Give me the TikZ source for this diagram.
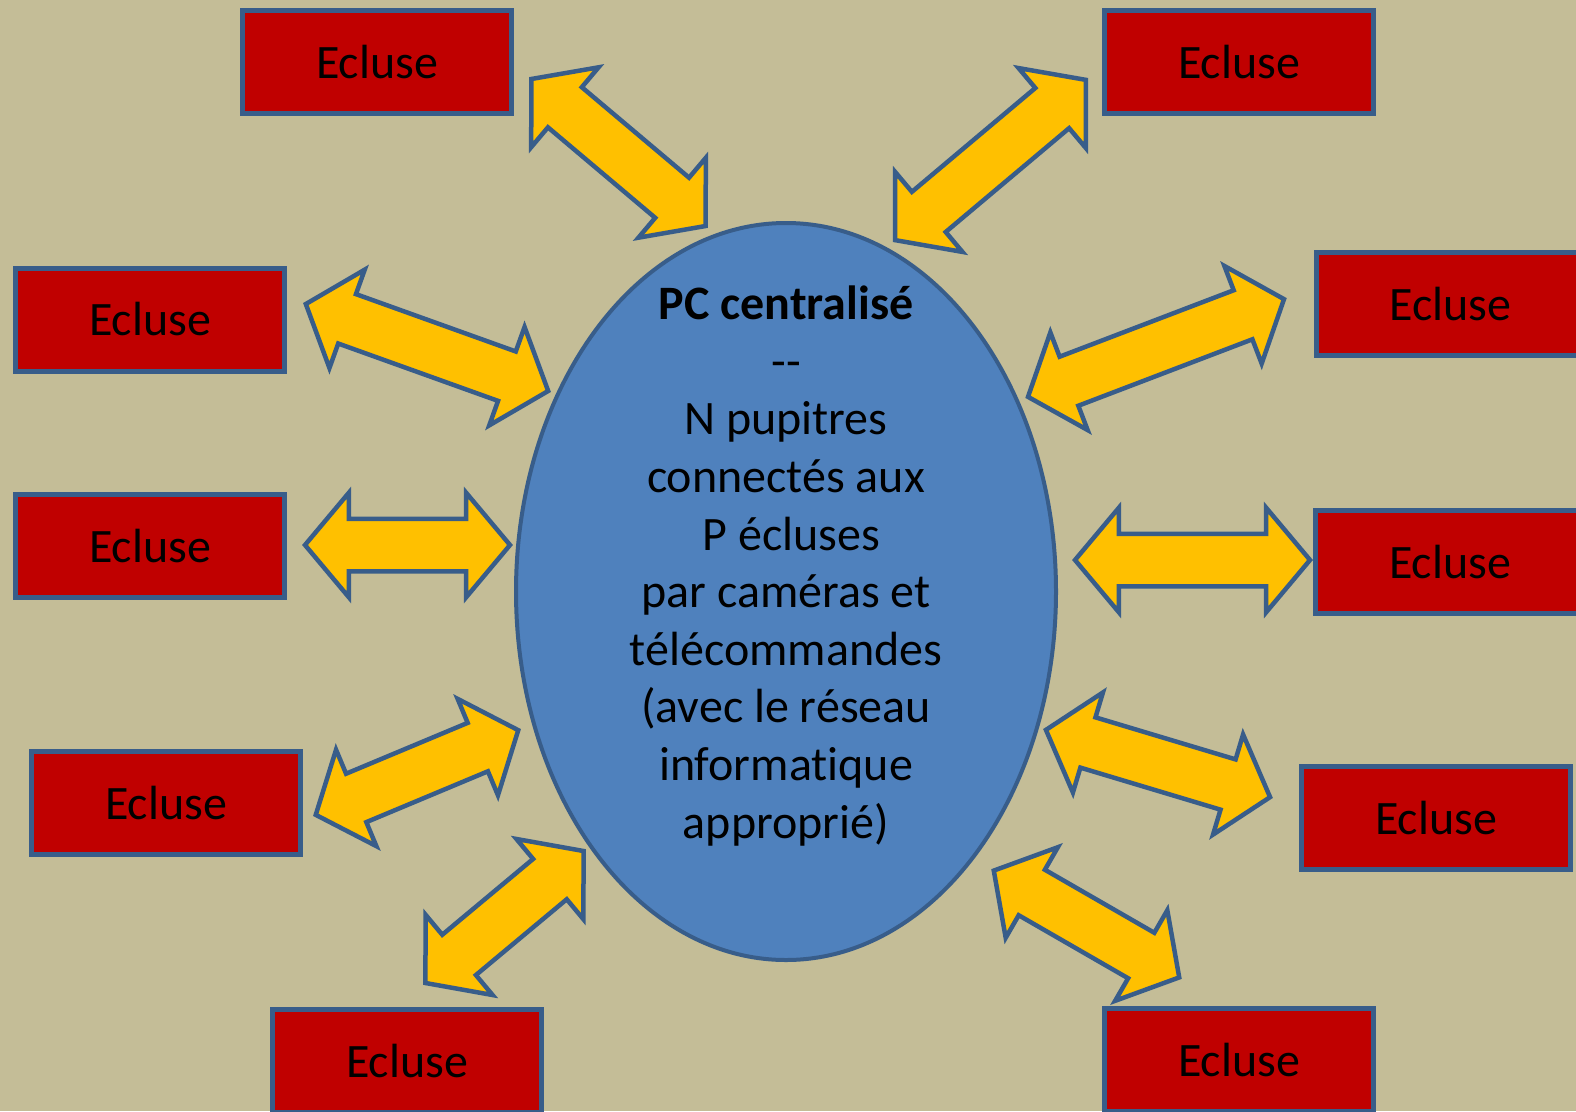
\documentclass[tikz,border=0pt]{standalone}
\usepackage{fontspec}
\setmainfont{Carlito}[Ligatures=NoCommon]
\usetikzlibrary{shapes.geometric,shapes.arrows}
\definecolor{fond}{RGB}{196,189,151}
\definecolor{rouge}{RGB}{192,0,0}
\definecolor{jaune}{RGB}{255,192,0}
\definecolor{bleu}{RGB}{79,129,189}
\definecolor{bord}{RGB}{56,93,138}

\begin{document}
\begin{tikzpicture}
[
x=1pt, y=-1pt,
ecluse/.style={rectangle, draw=bord, fill=rouge, line width=5pt, minimum width=269pt, minimum height=103pt, inner sep=0pt, font=\fontsize{48}{57}\selectfont},
fleche/.style={double arrow, draw=bord, fill=jaune, line width=4.5pt, inner xsep=0pt, inner ysep=24pt, double arrow head extend=26pt, double arrow tip angle=100, minimum width=100pt},
pc/.style={ellipse, draw=bord, fill=bleu, line width=4pt, minimum width=540pt, minimum height=737pt, inner sep=0pt}
]
\fill[fond] (0,0) rectangle (1576,1111);
\useasboundingbox (0,0) rectangle (1576,1111);

\node[pc] (pc) at (786,591.5) {};
\node[align=center, font=\fontsize{48}{57.6}\selectfont] (pctexte) at (786,566) {\textbf{PC centralisé}\\-{}-\\N pupitres\\connectés aux\\\ P écluses\\par caméras et\\télécommandes\\(avec le réseau\\informatique\\approprié)};

\node[ecluse] (ecl1) at (377,62) {Ecluse};
\node[ecluse] (ecl2) at (1239,62) {Ecluse};
\node[ecluse] (ecl3) at (150,319.5) {Ecluse};
\node[ecluse] (ecl4) at (150,546) {Ecluse};
\node[ecluse] (ecl5) at (166,802.5) {Ecluse};
\node[ecluse] (ecl6) at (407,1061) {Ecluse};
\node[ecluse] (ecl7) at (1450.5,304) {Ecluse};
\node[ecluse] (ecl8) at (1450,562) {Ecluse};
\node[ecluse] (ecl9) at (1436,817.5) {Ecluse};
\node[ecluse] (ecl10) at (1239,1060) {Ecluse};

\node[fleche, minimum height=228pt, rotate=-40.15] (fl1) at (618.5,152.5) {};
\node[fleche, minimum height=249pt, rotate=40.07] (fl2) at (990.5,160) {};
\node[fleche, minimum height=257.5pt, rotate=-19.74] (fl3) at (427,347.5) {};
\node[fleche, minimum height=205pt] (fl4) at (407.5,545) {};
\node[fleche, minimum height=219.5pt, rotate=22.69] (fl5) at (417,772.5) {};
\node[fleche, minimum height=206pt, rotate=39.84] (fl6) at (504.5,917) {};
\node[fleche, minimum height=274pt, rotate=20.89] (fl7) at (1156,348) {};
\node[fleche, minimum height=235pt] (fl8) at (1192.5,560) {};
\node[fleche, minimum height=234pt, rotate=-16.70] (fl9) at (1158,763.5) {};
\node[fleche, minimum height=214pt, rotate=-29.94] (fl10) at (1086.5,924) {};
\end{tikzpicture}
\end{document}
